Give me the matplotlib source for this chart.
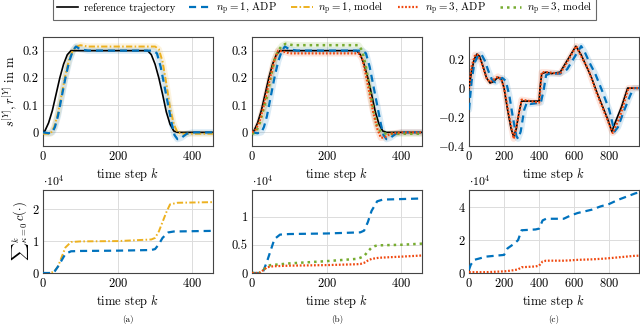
import matplotlib
matplotlib.use("Agg")
import matplotlib.pyplot as plt
from matplotlib.ticker import FuncFormatter

plt.rcParams['font.family'] = 'cmr10'
plt.rcParams['mathtext.fontset'] = 'cm'
plt.rcParams['axes.formatter.use_mathtext'] = True
plt.rcParams['axes.unicode_minus'] = True

C_BLUE = '#0072BD'
C_ORANGE = '#EDB120'
C_RED = '#F0480F'
C_GREEN = '#77AC30'

# ---------------- top row: trajectories ----------------
ref_k = [0, 5, 15, 25, 35, 45, 55, 65, 75, 100, 200, 280, 290, 300, 310, 320, 330, 340, 350, 360, 455]
ref_s = [0.0, 0.005, 0.035, 0.08, 0.14, 0.2, 0.25, 0.285, 0.3, 0.3, 0.3, 0.3, 0.285, 0.25, 0.2, 0.14, 0.075, 0.03, 0.005, 0.0, 0.0]

a_adp1_k = [0, 15, 25, 32, 40, 50, 60, 70, 80, 88, 100, 120, 200, 295, 305, 315, 325, 335, 345, 352, 360, 370, 385, 400, 455]
a_adp1_s = [0.0, -0.003, 0.0, 0.02, 0.06, 0.13, 0.2, 0.26, 0.3, 0.315, 0.305, 0.3, 0.3, 0.3, 0.29, 0.24, 0.17, 0.1, 0.03, -0.01, -0.025, -0.02, -0.005, 0.0, 0.0]

a_mod1_k = [0, 20, 30, 40, 50, 60, 70, 80, 90, 100, 120, 200, 300, 310, 320, 330, 340, 350, 360, 370, 455]
a_mod1_s = [-0.005, -0.005, 0.02, 0.07, 0.14, 0.21, 0.27, 0.3, 0.315, 0.32, 0.315, 0.315, 0.315, 0.305, 0.26, 0.18, 0.09, 0.03, 0.0, -0.005, -0.005]

b_adp3_k = [0, 10, 20, 30, 40, 50, 60, 70, 80, 100, 200, 285, 295, 305, 315, 325, 335, 345, 355, 370, 400, 455]
b_adp3_s = [0.0, 0.01, 0.04, 0.09, 0.15, 0.21, 0.265, 0.3, 0.298, 0.29, 0.29, 0.29, 0.27, 0.21, 0.14, 0.07, 0.015, -0.02, -0.018, -0.005, 0.0, 0.0]

b_mod3_k = [0, 10, 20, 30, 40, 50, 60, 70, 80, 90, 110, 200, 285, 295, 305, 315, 325, 335, 345, 360, 455]
b_mod3_s = [-0.005, 0.0, 0.03, 0.08, 0.13, 0.2, 0.265, 0.3, 0.318, 0.325, 0.32, 0.32, 0.32, 0.3, 0.24, 0.16, 0.08, 0.025, 0.0, -0.005, -0.005]

c_ref_k = [0, 15, 30, 45, 60, 80, 100, 120, 140, 165, 185, 200, 220, 240, 255, 270, 285, 300, 400, 405, 415, 440, 470, 520, 560, 610, 640, 670, 700, 730, 760, 790, 815, 840, 870, 905, 970]
c_ref_s = [0.0, 0.12, 0.2, 0.235, 0.22, 0.15, 0.07, 0.035, 0.045, 0.075, 0.06, 0.0, -0.15, -0.28, -0.335, -0.28, -0.17, -0.09, -0.09, 0.0, 0.1, 0.11, 0.1, 0.11, 0.19, 0.29, 0.23, 0.15, 0.07, -0.03, -0.12, -0.21, -0.3, -0.22, -0.13, 0.0, 0.0]

c_adp1_k = [0, 15, 30, 50, 70, 90, 110, 130, 150, 170, 190, 210, 230, 250, 270, 280, 295, 315, 330, 350, 410, 425, 440, 460, 520, 560, 600, 640, 660, 690, 720, 760, 800, 830, 850, 880, 920, 940, 970]
c_adp1_s = [-0.15, 0.05, 0.17, 0.22, 0.235, 0.19, 0.12, 0.06, 0.04, 0.06, 0.07, 0.05, -0.05, -0.2, -0.33, -0.35, -0.3, -0.15, -0.1, -0.11, -0.1, -0.02, 0.09, 0.1, 0.1, 0.13, 0.21, 0.29, 0.25, 0.17, 0.1, -0.02, -0.15, -0.3, -0.27, -0.17, -0.05, 0.0, 0.0]

c_adp3_k = [0, 15, 35, 50, 70, 100, 120, 165, 185, 200, 230, 255, 270, 300, 400, 415, 440, 520, 565, 612, 640, 680, 730, 780, 820, 860, 910, 970]
c_adp3_s = [0.0, 0.15, 0.23, 0.23, 0.18, 0.07, 0.04, 0.08, 0.06, 0.0, -0.2, -0.35, -0.27, -0.08, -0.1, 0.11, 0.11, 0.1, 0.19, 0.29, 0.22, 0.13, -0.04, -0.19, -0.31, -0.2, 0.0, 0.0]

# ---------------- bottom row: cumulative cost ----------------
ca_k = [0, 20, 30, 40, 50, 60, 75, 100, 200, 290, 300, 310, 320, 330, 340, 360, 455]
ca_mod1 = [0, 0, 500, 2000, 5000, 8000, 9700, 9900, 10000, 10500, 11000, 13000, 16000, 19000, 21500, 22000, 22200]
cab_k = [0, 25, 30, 40, 50, 60, 75, 100, 200, 290, 300, 310, 320, 335, 350, 455]
ca_adp1 = [0, 0, 300, 2000, 4000, 6000, 6800, 6900, 7000, 7200, 7500, 9000, 11000, 12700, 13000, 13200]
cb_k = [0, 20, 30, 40, 50, 60, 100, 200, 280, 290, 300, 310, 320, 330, 340, 400, 455]
cb_mod3 = [0, 0, 500, 1200, 1400, 1450, 1700, 2100, 2500, 2700, 3000, 3800, 4500, 4800, 4900, 5000, 5200]
cb_adp3 = [0, 0, 500, 1000, 1150, 1200, 1300, 1400, 1550, 1600, 1800, 2200, 2500, 2600, 2700, 2900, 3100]
cc_k = [0, 10, 30, 100, 200, 220, 260, 280, 300, 380, 400, 420, 440, 540, 580, 620, 700, 750, 800, 850, 900, 950, 970]
cc_adp1 = [2000, 5000, 8000, 10000, 11000, 15000, 18000, 20000, 26000, 26500, 27000, 32000, 33000, 33000, 35000, 36500, 38500, 40500, 42000, 44500, 46500, 48500, 49000]
cc_adp3 = [500, 500, 500, 500, 1000, 1200, 1800, 2200, 3500, 4000, 4500, 7000, 7500, 7500, 7700, 8000, 8300, 8600, 9000, 9500, 10000, 10500, 10500]

STYLES = {
    'ref': dict(color='black', ls='-', lw=1.2),
    'adp1': dict(color=C_BLUE, ls=(0, (3.2, 2.2)), lw=1.6),
    'mod1': dict(color=C_ORANGE, ls=(0, (3.2, 1.2, 0.8, 1.2)), lw=1.4),
    'adp3': dict(color=C_RED, ls=(0, (0.8, 0.8)), lw=1.6),
    'mod3': dict(color=C_GREEN, ls=(0, (1.0, 1.6)), lw=1.8),
}


def draw(ax, k, v, key, band=True):
    st = STYLES[key]
    if band and key != 'ref':
        ax.plot(k, v, color=st['color'], lw=4.5, alpha=0.14, solid_capstyle='round', zorder=1)
    ax.plot(k, v, zorder=3, **st)


fig = plt.figure(figsize=(6.4, 3.25), dpi=100)
W = 170 / 640
H_top = 109 / 325
H_bot = 83 / 325
lefts = [43 / 640, 252 / 640, 469 / 640]
bot_top = 1 - 146 / 325
bot_bot = 1 - 273 / 325

axes_top = [fig.add_axes([l, bot_top, W, H_top]) for l in lefts]
axes_bot = [fig.add_axes([l, bot_bot, W, H_bot]) for l in lefts]

# top (a)
ax = axes_top[0]
draw(ax, ref_k, ref_s, 'ref')
draw(ax, a_mod1_k, a_mod1_s, 'mod1')
draw(ax, a_adp1_k, a_adp1_s, 'adp1')
# top (b)
ax = axes_top[1]
draw(ax, ref_k, ref_s, 'ref')
draw(ax, a_adp1_k, a_adp1_s, 'adp1')
draw(ax, b_mod3_k, b_mod3_s, 'mod3')
draw(ax, b_adp3_k, b_adp3_s, 'adp3')
# top (c)
ax = axes_top[2]
draw(ax, c_ref_k, c_ref_s, 'ref')
draw(ax, c_adp1_k, c_adp1_s, 'adp1')
draw(ax, c_adp3_k, c_adp3_s, 'adp3')

# bottom
draw(axes_bot[0], ca_k, ca_mod1, 'mod1', band=False)
draw(axes_bot[0], cab_k, ca_adp1, 'adp1', band=False)
draw(axes_bot[1], cab_k, ca_adp1, 'adp1', band=False)
draw(axes_bot[1], cb_k, cb_mod3, 'mod3', band=False)
draw(axes_bot[1], cb_k, cb_adp3, 'adp3', band=False)
draw(axes_bot[2], cc_k, cc_adp1, 'adp1', band=False)
draw(axes_bot[2], cc_k, cc_adp3, 'adp3', band=False)

for ax in axes_top[:2]:
    ax.set_xlim(0, 455)
    ax.set_ylim(-0.05, 0.35)
    ax.set_yticks([0, 0.1, 0.2, 0.3])
    ax.set_yticklabels(['0', '0.1', '0.2', '0.3'])
    ax.set_xticks([0, 200, 400])
axes_top[2].set_xlim(0, 970)
axes_top[2].set_ylim(-0.4, 0.353)
axes_top[2].set_yticks([-0.4, -0.2, 0, 0.2])
axes_top[2].set_yticklabels([r'$-0.4$', r'$-0.2$', '0', '0.2'])
axes_top[2].set_xticks([0, 200, 400, 600, 800])

axes_bot[0].set_xlim(0, 455)
axes_bot[0].set_ylim(0, 26000)
axes_bot[0].set_yticks([0, 10000, 20000])
axes_bot[1].set_xlim(0, 455)
axes_bot[1].set_ylim(0, 14700)
axes_bot[1].set_yticks([0, 5000, 10000])
axes_bot[2].set_xlim(0, 970)
axes_bot[2].set_ylim(0, 50500)
axes_bot[2].set_yticks([0, 20000, 40000])
for ax in axes_bot[:2]:
    ax.set_xticks([0, 200, 400])
axes_bot[2].set_xticks([0, 200, 400, 600, 800])


def fmt1e4(v, pos):
    return f'{v / 1e4:g}'

for ax in axes_bot:
    ax.yaxis.set_major_formatter(FuncFormatter(fmt1e4))
    ax.text(0.0, 1.02, r'$\cdot 10^4$', transform=ax.transAxes, fontsize=8.5,
            ha='left', va='bottom')

for ax in axes_top + axes_bot:
    ax.grid(True, color='#dcdcdc', lw=0.7)
    ax.set_axisbelow(True)
    ax.tick_params(labelsize=9, length=0, pad=3)
    for sp in ax.spines.values():
        sp.set_color('#444444')
        sp.set_linewidth(0.8)
    ax.set_xlabel(r'time step $k$', fontsize=9, labelpad=2)

axes_top[0].set_ylabel(r'$s^{[Y]}, r^{[Y]}$ in m', fontsize=9, labelpad=2)
axes_bot[0].set_ylabel(r'${\sum}_{\kappa=0}^{k}\, c(\cdot)$', fontsize=9, labelpad=1)

for ax, lab in zip(axes_bot, ['(a)', '(b)', '(c)']):
    fig.text(ax.get_position().x0 + W / 2, 1 - 320 / 325, lab, ha='center', va='center', fontsize=6.5)

# legend
handles = []
labels = [r'reference trajectory', r'$n_{\mathrm{p}}=1$, ADP', r'$n_{\mathrm{p}}=1$, model',
          r'$n_{\mathrm{p}}=3$, ADP', r'$n_{\mathrm{p}}=3$, model']
for key in ['ref', 'adp1', 'mod1', 'adp3', 'mod3']:
    h, = axes_top[0].plot([], [], **STYLES[key])
    handles.append(h)
leg = fig.legend(handles, labels, loc='center', bbox_to_anchor=(0.507, 0.976), ncol=5,
                 fontsize=7.8, frameon=True, fancybox=False, edgecolor='#444444',
                 handlelength=2.0, columnspacing=1.3, handletextpad=0.5, borderpad=0.3,
                 borderaxespad=0)
leg.get_frame().set_linewidth(0.8)

fig.savefig('out.png', dpi=100)
